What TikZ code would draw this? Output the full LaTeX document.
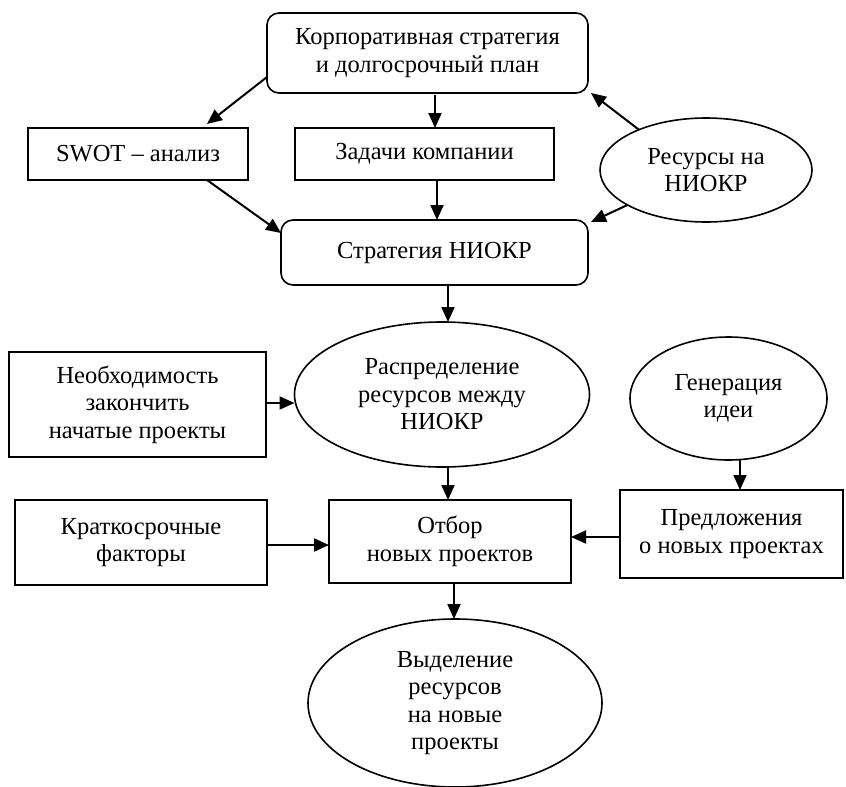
\documentclass[tikz,border=0pt]{standalone}
\usepackage{fontspec}
\setmainfont{Liberation Serif}
\usetikzlibrary{arrows.meta,shapes.geometric,calc}
\begin{document}
\begin{tikzpicture}[x=1pt,y=-1pt,
  base/.style={draw, line width=1.6pt, align=center, inner sep=0pt, outer sep=0pt,
    font=\fontsize{24.5}{27.5}\selectfont},
  box/.style={base, rectangle},
  rbox/.style={base, rectangle, rounded corners=12pt},
  ell/.style={base, ellipse},
  arr/.style={line width=2pt, -{Triangle[length=15pt,width=13pt]}}]
\useasboundingbox (0,0) rectangle (846,787);
\fill[white] (0,0) rectangle (846,787);

\node[rbox, minimum width=321pt, minimum height=80pt] (corp) at (427.5,53)
  {Корпоративная стратегия\\и долгосрочный план};
\node[box, minimum width=220pt, minimum height=52pt] (swot) at (138,154) {SWOT – анализ};
\node[box, minimum width=259pt, minimum height=52pt] (task) at (424.5,154) {Задачи компании};
\node[ell, minimum width=212pt, minimum height=104pt] (res) at (706,170) {Ресурсы на\\НИОКР};
\node[rbox, minimum width=307pt, minimum height=65pt] (strat) at (434.5,252.5) {Стратегия НИОКР};
\node[ell, minimum width=295pt, minimum height=145pt] (distr) at (442,394.5)
  {Распределение\\ресурсов между\\НИОКР};
\node[box, minimum width=257pt, minimum height=105pt] (need) at (137.5,404.5)
  {Необходимость\\закончить\\начатые проекты};
\node[ell, minimum width=197pt, minimum height=123pt] (gen) at (728.5,398.5) {Генерация\\идеи};
\node[box, minimum width=242pt, minimum height=83pt] (sel) at (450,541.5) {Отбор\\новых проектов};
\node[box, minimum width=252pt, minimum height=85pt] (short) at (141,542.5) {Краткосрочные\\факторы};
\node[box, minimum width=223pt, minimum height=88pt] (prop) at (731.5,534)
  {Предложения\\о новых проектах};
\node[ell, minimum width=294pt, minimum height=168pt] (alloc) at (455,703)
  {Выделение\\ресурсов\\на новые\\проекты};

\draw[arr] ([yshift=16pt]corp.south west) -- ([xshift=69pt,yshift=4pt]swot.north);
\draw[arr] ([xshift=7.5pt,yshift=-2pt]corp.south) -- ([xshift=10.5pt]task.north);
\draw[arr] (res.149) -- ([xshift=3pt]corp.south east);
\draw[arr] (res.204) -- ([xshift=3pt,yshift=-2pt]strat.north east);
\draw[arr] ([xshift=69pt]swot.south) -- ([yshift=-13pt]strat.north west);
\draw[arr] ([xshift=12.5pt]task.south) -- ([xshift=2.5pt]strat.north);
\draw[arr] ([xshift=13.5pt]strat.south) -- ([xshift=6pt]distr.north);
\draw[arr] ([yshift=1.5pt]need.east) -- ([yshift=-8.5pt]distr.west);
\draw[arr] ([xshift=11.5pt]gen.south) -- ([xshift=8.5pt]prop.north);
\draw[arr] ([xshift=6pt]distr.south) -- ([xshift=-2pt]sel.north);
\draw[arr] ([yshift=-2.5pt]short.east) -- ([yshift=-3.5pt]sel.west);
\draw[arr] ([yshift=-3pt]prop.west) -- ([yshift=4.5pt]sel.east);
\draw[arr] ([xshift=4pt]sel.south) -- ([xshift=-1pt]alloc.north);
\end{tikzpicture}
\end{document}
